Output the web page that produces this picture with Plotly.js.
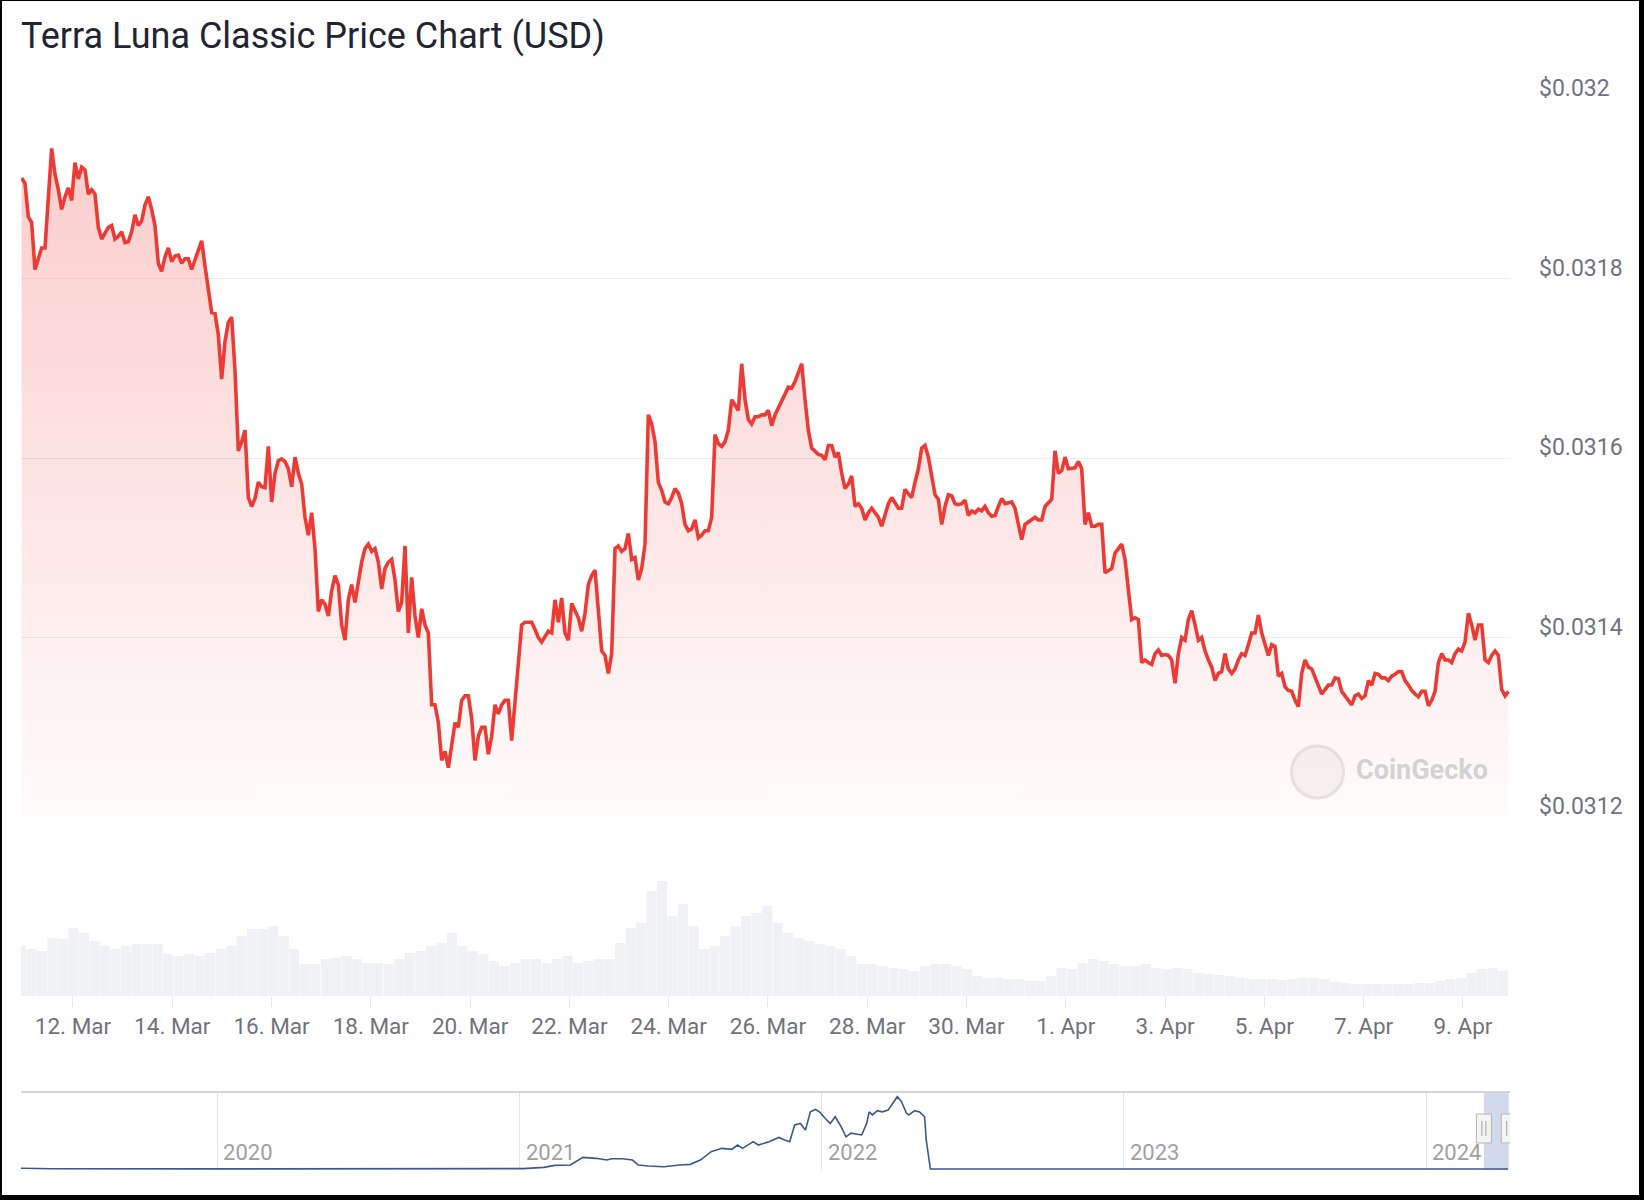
<!DOCTYPE html>
<html>
<head>
<meta charset="utf-8">
<script src="https://cdn.plot.ly/plotly-3.0.1.min.js"></script>
<style>
  html, body { margin: 0; padding: 0; background: #fff; }
  #wrap { position: relative; width: 1644px; height: 1200px; }
  #grafica { position: absolute; left: 0; top: 0; width: 1644px; height: 1200px; }
  #marco { position: absolute; left: 0; top: 0; width: 1644px; height: 1200px; box-sizing: border-box;
    border-left: 2px solid #000; border-top: 1px solid #000; border-right: 5px solid #000; border-bottom: 5px solid #000;
    pointer-events: none; }
</style>
</head>
<body>
<div id="wrap"><div id="grafica"></div><div id="marco"></div></div>
<script>
// precio LUNC en USD, muestras regulares entre priceStart y priceEnd
const priceStart = '2024-03-10 23:11';
const priceEnd = '2024-04-09 21:58';
const prices = [
  0.031912, 0.031906, 0.031869, 0.031862, 0.031810, 0.031822, 0.031834, 0.031834, 0.031892, 0.031945,
  0.031916, 0.031899, 0.031877, 0.031891, 0.031901, 0.031887, 0.031929, 0.031911, 0.031924, 0.031921,
  0.031894, 0.031899, 0.031894, 0.031857, 0.031844, 0.031851, 0.031857, 0.031859, 0.031844, 0.031847,
  0.031852, 0.031840, 0.031841, 0.031852, 0.031871, 0.031859, 0.031864, 0.031882, 0.031891, 0.031877,
  0.031859, 0.031817, 0.031808, 0.031824, 0.031834, 0.031819, 0.031825, 0.031826, 0.031817, 0.031822,
  0.031822, 0.031810, 0.031821, 0.031832, 0.031842, 0.031814, 0.031787, 0.031762, 0.031761, 0.031737,
  0.031688, 0.031730, 0.031751, 0.031757, 0.031698, 0.031608, 0.031618, 0.031631, 0.031556, 0.031546,
  0.031555, 0.031573, 0.031568, 0.031567, 0.031613, 0.031551, 0.031583, 0.031597, 0.031599, 0.031596,
  0.031588, 0.031568, 0.031601, 0.031583, 0.031571, 0.031534, 0.031514, 0.031539, 0.031499, 0.031429,
  0.031442, 0.031437, 0.031424, 0.031452, 0.031469, 0.031459, 0.031414, 0.031397, 0.031442, 0.031459,
  0.031439, 0.031464, 0.031484, 0.031499, 0.031504, 0.031496, 0.031499, 0.031484, 0.031454, 0.031477,
  0.031484, 0.031487, 0.031464, 0.031429,
  0.031439, 0.031502, 0.031405, 0.031467, 0.031424, 0.031400, 0.031432, 0.031414, 0.031405, 0.031325,
  0.031325, 0.031305, 0.031263, 0.031273, 0.031255, 0.031280, 0.031305, 0.031300, 0.031330, 0.031335,
  0.031335, 0.031310, 0.031263, 0.031290, 0.031300, 0.031300, 0.031270, 0.031290, 0.031325, 0.031315,
  0.031325, 0.031330, 0.031330, 0.031285, 0.031330, 0.031377, 0.031414, 0.031417, 0.031417, 0.031417,
  0.031409, 0.031400, 0.031395, 0.031402, 0.031407, 0.031405, 0.031442, 0.031417, 0.031444, 0.031405,
  0.031397, 0.031438, 0.031429, 0.031422, 0.031407, 0.031427, 0.031459, 0.031469, 0.031475, 0.031429,
  0.031385, 0.031380, 0.031360, 0.031382, 0.031499, 0.031502, 0.031496, 0.031499, 0.031516, 0.031487,
  0.031489, 0.031464, 0.031477, 0.031504, 0.031648, 0.031638, 0.031618, 0.031573, 0.031564, 0.031551,
  0.031549, 0.031556, 0.031566, 0.031561, 0.031549, 0.031526, 0.031519, 0.031521, 0.031531, 0.031511,
  0.031514, 0.031519, 0.031519, 0.031534, 0.031626, 0.031616, 0.031613, 0.031618, 0.031631, 0.031665,
  0.031658, 0.031653, 0.031705, 0.031665, 0.031643, 0.031638, 0.031646, 0.031646, 0.031648, 0.031648,
  0.031653, 0.031636, 0.031648, 0.031656,
  0.031663, 0.031672, 0.031679, 0.031678, 0.031685, 0.031695, 0.031705, 0.031665, 0.031631, 0.031611,
  0.031608, 0.031604, 0.031603, 0.031598, 0.031614, 0.031614, 0.031601, 0.031606, 0.031583, 0.031566,
  0.031571, 0.031580, 0.031546, 0.031549, 0.031544, 0.031531, 0.031539, 0.031544, 0.031539, 0.031534,
  0.031524, 0.031536, 0.031549, 0.031556, 0.031549, 0.031544, 0.031544, 0.031565, 0.031560, 0.031556,
  0.031573, 0.031588, 0.031611, 0.031614, 0.031601, 0.031578, 0.031559, 0.031554, 0.031526, 0.031546,
  0.031559, 0.031558, 0.031549, 0.031548, 0.031549, 0.031553, 0.031536, 0.031541, 0.031539, 0.031543,
  0.031541, 0.031546, 0.031539, 0.031535, 0.031536, 0.031546, 0.031555, 0.031549, 0.031550, 0.031551,
  0.031544, 0.031524, 0.031509, 0.031526, 0.031529, 0.031531, 0.031534, 0.031531, 0.031531, 0.031546,
  0.031550, 0.031554, 0.031608, 0.031583, 0.031586, 0.031601, 0.031588, 0.031589, 0.031589, 0.031596,
  0.031588, 0.031526, 0.031539, 0.031524, 0.031524, 0.031526, 0.031526, 0.031472, 0.031474, 0.031477,
  0.031494, 0.031499, 0.031504, 0.031487, 0.031454, 0.031420, 0.031422, 0.031420, 0.031372, 0.031375,
  0.031372, 0.031370, 0.031382, 0.031386,
  0.031380, 0.031381, 0.031380, 0.031375, 0.031349, 0.031382, 0.031400, 0.031397, 0.031420, 0.031430,
  0.031414, 0.031397, 0.031400, 0.031385, 0.031375, 0.031367, 0.031352, 0.031360, 0.031362, 0.031382,
  0.031365, 0.031360, 0.031365, 0.031375, 0.031382, 0.031380, 0.031392, 0.031405, 0.031405, 0.031425,
  0.031405, 0.031392, 0.031380, 0.031392, 0.031390, 0.031357, 0.031360, 0.031345, 0.031341, 0.031340,
  0.031330, 0.031323, 0.031360, 0.031375, 0.031367, 0.031365, 0.031355, 0.031345, 0.031337, 0.031342,
  0.031347, 0.031347, 0.031355, 0.031354, 0.031340, 0.031335, 0.031330, 0.031325, 0.031335, 0.031337,
  0.031332, 0.031335, 0.031352, 0.031347, 0.031360, 0.031359, 0.031355, 0.031355, 0.031352, 0.031357,
  0.031359, 0.031362, 0.031362, 0.031352, 0.031347, 0.031341, 0.031337, 0.031334, 0.031340, 0.031340,
  0.031324, 0.031330, 0.031340, 0.031372, 0.031382, 0.031375, 0.031375, 0.031372, 0.031382, 0.031387,
  0.031385, 0.031395, 0.031427, 0.031414, 0.031397, 0.031414, 0.031414, 0.031375, 0.031372, 0.031380,
  0.031385, 0.031380, 0.031342, 0.031335, 0.031340
];

// volumen (millones USD aprox.), muestras regulares
const volumeStart = '2024-03-10 22:49';
const volumeEnd = '2024-04-09 19:22';
const volumes = [
  50, 47, 45, 58, 57, 68, 63, 55, 50, 47, 50, 52, 52, 52, 42, 40, 42, 40, 43, 47,
  50, 60, 67, 67, 70, 60, 47, 32, 32, 37, 38, 40, 37, 33, 33, 32, 37, 43, 45, 50,
  53, 63, 50, 45, 42, 35, 30, 33, 37, 37, 33, 37, 40, 33, 35, 37, 37, 53, 68, 73,
  105, 115, 80, 92, 70, 47, 50, 60, 70, 80, 83, 90, 73, 63, 58, 55, 52,
  50, 47, 40, 32, 32, 30, 28, 27, 25, 30, 32, 32, 30, 27, 20, 18, 18, 17, 17, 15,
  15, 20, 28, 27, 33, 37, 35, 32, 30, 30, 32, 28, 27, 28, 27, 23, 22, 21, 20, 18,
  17, 17, 17, 16, 17, 18, 18, 17, 14, 13, 12, 12, 12, 12, 12, 12, 13, 13, 15, 17,
  18, 23, 27, 28, 25
];

// navegador: historial completo (USD)
const navDates = ['2019-05-09', '2019-06-16', '2019-12-22', '2020-08-31', '2021-01-05', '2021-01-30', '2021-02-12',
  '2021-03-03', '2021-03-09', '2021-03-18', '2021-04-03', '2021-04-16', '2021-04-22', '2021-05-05', '2021-05-17',
  '2021-05-24', '2021-06-05', '2021-06-24', '2021-07-13', '2021-07-26', '2021-08-07', '2021-08-20', '2021-09-02',
  '2021-09-14', '2021-09-21', '2021-09-27', '2021-10-10', '2021-10-16', '2021-10-29', '2021-11-10', '2021-11-17',
  '2021-11-23', '2021-11-29', '2021-12-06', '2021-12-12', '2021-12-18', '2021-12-24', '2021-12-29', '2022-01-05',
  '2022-01-11', '2022-01-17', '2022-01-24', '2022-01-30', '2022-02-05', '2022-02-18', '2022-02-24', '2022-02-27',
  '2022-03-03', '2022-03-09', '2022-03-15', '2022-03-22', '2022-03-28', '2022-04-02', '2022-04-07', '2022-04-13',
  '2022-04-16', '2022-04-23', '2022-04-29', '2022-05-05', '2022-05-07', '2022-05-12', '2022-06-01', '2023-01-01',
  '2024-01-01', '2024-04-09'];
const navPrices = [1.4, 0.5, 0.2, 0.4, 0.7, 2.7, 6.0, 6.6, 12, 19.2, 17.6, 14.8, 17, 17, 14.8, 6.6, 4.9, 3.8, 6.6,
  7.7, 14.8, 28.5, 34, 32.4, 39.5, 34, 45, 39.5, 45, 52, 47.7, 45, 72.4, 75, 64, 94, 98, 94, 83, 75, 86, 70, 53, 59,
  56, 75, 94, 89, 96, 94, 97, 108, 119, 111, 92, 89, 96, 94, 86, 48, 0.0001, 0.00008, 0.00009, 0.0001, 0.00009];

const yTicks = [0.0312, 0.0314, 0.0316, 0.0318, 0.032];
const viewRange = ['2024-03-10 22:52', '2024-04-09 22:45'];
const navRange = ['2019-05-09', '2024-04-11 12:00'];

// tiempos equiespaciados (UTC) entre dos instantes
function spread(start, end, n) {
  const t0 = Date.parse(start.replace(' ', 'T') + ':00Z');
  const t1 = Date.parse(end.replace(' ', 'T') + ':00Z');
  const out = [];
  for (let i = 0; i < n; i++) out.push(t0 + (t1 - t0) * i / (n - 1));
  return out;
}

const priceTimes = spread(priceStart, priceEnd, prices.length);
const volumeTimes = spread(volumeStart, volumeEnd, volumes.length);

// px -> fracción de paper (área de trazado: y 99..1170, x 21..1510)
const py = v => (1170 - v) / 1071;
const px = v => (v - 21) / 1489;

const trazos = [
  {
    x: volumeTimes, y: volumes, type: 'bar', xaxis: 'x', yaxis: 'y2',
    marker: { color: '#f0f1f4', line: { width: 0 } }, hoverinfo: 'skip'
  },
  {
    x: priceTimes, y: prices, type: 'scatter', mode: 'lines', xaxis: 'x', yaxis: 'y',
    line: { color: '#ec3b35', width: 3.6 },
    fill: 'tozeroy',
    fillgradient: {
      type: 'vertical', start: 0.0312, stop: 0.032,
      colorscale: [[0, 'rgba(236,59,53,0.02)'], [1, 'rgba(236,59,53,0.27)']]
    },
    hoverinfo: 'skip'
  },
  {
    x: navDates, y: navPrices, type: 'scatter', mode: 'lines', xaxis: 'x2', yaxis: 'y3',
    line: { color: '#3a5a8c', width: 1.6 }, hoverinfo: 'skip'
  }
];

const handle = (anchor) => [
  { type: 'rect', xref: 'x2', yref: 'paper', xsizemode: 'pixel', xanchor: anchor, x0: -7.5, x1: 7.5,
    y0: py(1143), y1: py(1114), fillcolor: '#f4f4f4', line: { color: '#b5b5b5', width: 1 }, layer: 'above' },
  { type: 'line', xref: 'x2', yref: 'paper', xsizemode: 'pixel', xanchor: anchor, x0: -2, x1: -2,
    y0: py(1136), y1: py(1121), line: { color: '#a0a0a0', width: 1 }, layer: 'above' },
  { type: 'line', xref: 'x2', yref: 'paper', xsizemode: 'pixel', xanchor: anchor, x0: 2, x1: 2,
    y0: py(1136), y1: py(1121), line: { color: '#a0a0a0', width: 1 }, layer: 'above' }
];

const layout = {
  width: 1644, height: 1200,
  margin: { l: 21, r: 134, t: 99, b: 30, pad: 0, autoexpand: false },
  paper_bgcolor: '#ffffff', plot_bgcolor: 'rgba(0,0,0,0)',
  showlegend: false, bargap: 0.04,
  font: { family: 'Roboto, sans-serif', color: '#6e737c' },
  title: {
    text: 'Terra Luna Classic Price Chart (USD)',
    xref: 'container', yref: 'container', x: 21 / 1644, xanchor: 'left', y: 1 - 35 / 1200, yanchor: 'middle',
    font: { family: 'Roboto, sans-serif', size: 36, color: '#1f2533' }
  },
  xaxis: {
    type: 'date', domain: [0, 1], anchor: 'y2', range: viewRange,
    tick0: '2024-03-12', dtick: 2 * 86400000, tickformat: '%-d. %b',
    ticks: 'outside', ticklen: 10, tickcolor: '#e4e6ea', tickwidth: 1,
    showgrid: false, zeroline: false, showline: false,
    tickfont: { size: 22.5, color: '#6e737c' }
  },
  yaxis: {
    domain: [py(817), 1], range: [0.0312, 0.032], side: 'right',
    tickmode: 'array', tickvals: yTicks, ticktext: yTicks.map(v => '$' + v),
    showgrid: true, gridcolor: '#eceef1', gridwidth: 1, zeroline: false, showline: false, ticks: '',
    ticklabelstandoff: 28, ticklabelshift: -11,
    tickfont: { size: 23, color: '#6e7480' }
  },
  yaxis2: { domain: [py(996), py(817)], range: [0, 179], visible: false },
  xaxis2: {
    type: 'date', domain: [0, 1], anchor: 'y3', range: navRange,
    tick0: '2020-01-01', dtick: 'M12', tickformat: '%Y',
    showgrid: true, gridcolor: '#e3e4e8', ticks: '', ticklabelposition: 'inside right', ticklabelshift: 6,
    zeroline: false, showline: false,
    tickfont: { size: 22, color: '#a0a0a0' }
  },
  yaxis3: { domain: [0, py(1092)], range: [-1.6, 126.7], visible: false },
  shapes: [
    { type: 'line', xref: 'paper', yref: 'paper', x0: 0, x1: 1, y0: py(1092), y1: py(1092),
      line: { color: '#d3d5da', width: 2 } },
    { type: 'rect', xref: 'x2', yref: 'paper', x0: viewRange[0], x1: viewRange[1], y0: 0, y1: py(1092),
      fillcolor: 'rgba(102,133,194,0.3)', line: { width: 0 }, layer: 'below' },
    ...handle(viewRange[0]),
    ...handle(viewRange[1]),
    { type: 'circle', xref: 'paper', yref: 'paper', xsizemode: 'pixel', ysizemode: 'pixel',
      xanchor: px(1317.5), yanchor: py(772), x0: -26, x1: 26, y0: -26, y1: 26,
      fillcolor: '#f5f5f5', line: { color: '#e6e6e6', width: 3 }, layer: 'below' }
  ],
  annotations: [
    { text: 'CoinGecko', xref: 'paper', yref: 'paper', x: px(1422), y: py(770), xanchor: 'center', yanchor: 'middle',
      showarrow: false, font: { family: 'Roboto, sans-serif', size: 27, color: '#d2d2d2', weight: 700 } }
  ]
};

Plotly.newPlot('grafica', trazos, layout, { staticPlot: true, displayModeBar: false });
</script>
</body>
</html>
